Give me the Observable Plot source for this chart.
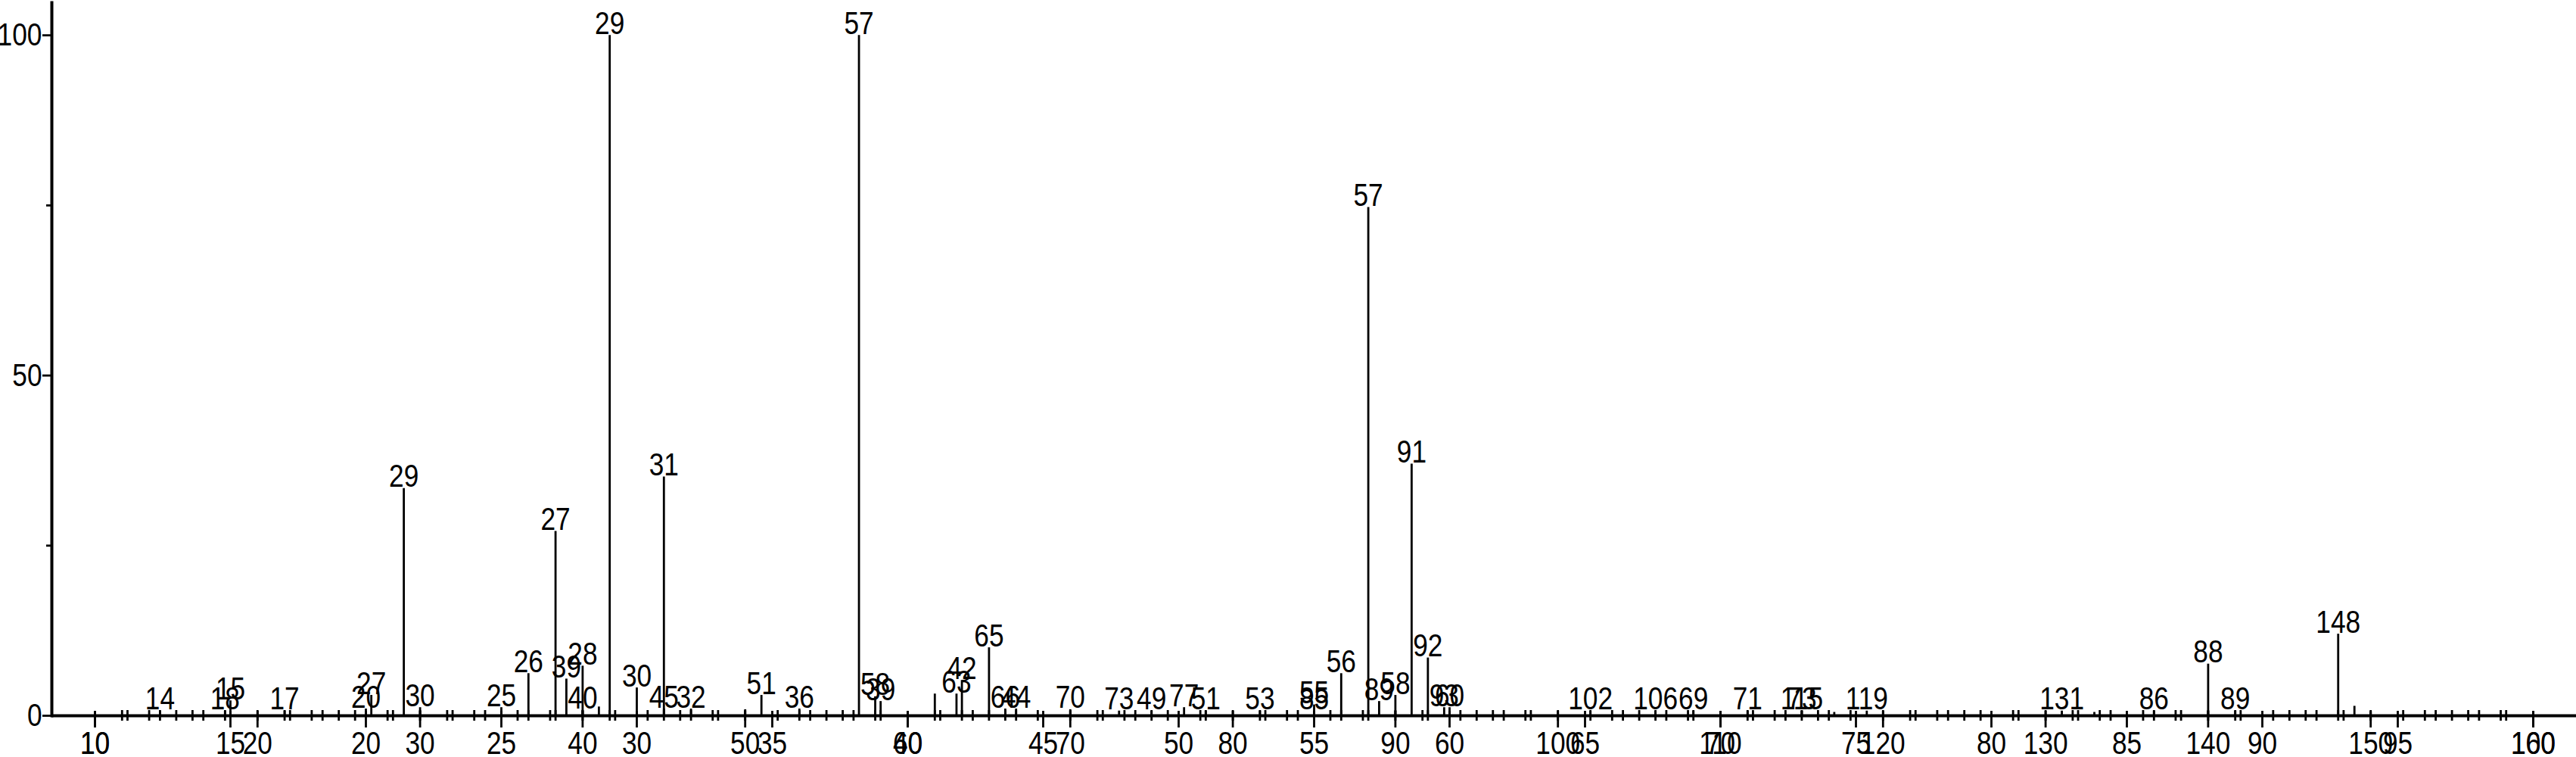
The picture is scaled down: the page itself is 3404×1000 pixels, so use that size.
<!DOCTYPE html>
<html><head><meta charset="utf-8">
<script src="https://cdn.jsdelivr.net/npm/d3@7"></script>
<script src="https://cdn.jsdelivr.net/npm/@observablehq/plot@0.6"></script>
<style>
html,body{margin:0;padding:0;background:#fff;}
#chart{position:relative;width:3404px;height:1000px;}
#chart svg{position:absolute;left:0;top:0;}
</style></head><body><div id="chart"></div>
<script>
// Spectrum A (read against the axis labelled every 5)
const specA_mz    = [15, 17, 20, 25, 26, 27, 28, 29, 30, 31, 32, 36, 39, 41, 42, 44, 49, 51, 53, 55, 56, 57, 58, 60, 69, 71, 73, 86, 88, 89];
const specA_int   = [2.2, 0.7, 1.0, 1.2, 6.2, 27.1, 7.3, 100, 4.1, 35.1, 1.0, 1.0, 2.1, 3.2, 5.2, 1.0, 0.7, 0.7, 0.7, 1.6, 6.2, 74.7, 3.0, 1.2, 0.7, 0.7, 0.7, 0.7, 7.6, 0.7];
const specA_label = ["15","17","20","25","26","27","28","29","30","31","32","36","39","","42","44","49","51","53","55","56","57","58","60","69","71","73","86","88","89"];

// Spectrum B (read against the axis labelled every 10)
const specB_mz    = [14, 18, 27, 29, 30, 39, 40, 41, 45, 50, 51, 57, 58, 63, 65, 66, 70, 73, 77, 85, 89, 91, 92, 93, 102, 106, 115, 117, 119, 131, 133, 148, 149, 150];
const specB_int   = [0.7, 0.7, 3.0, 33.4, 1.2, 5.4, 0.8, 1.3, 1.0, 0.9, 3.0, 100, 2.8, 3.2, 10.0, 1.0, 0.9, 0.7, 1.2, 0.7, 2.1, 37.0, 8.5, 1.2, 0.7, 0.7, 0.7, 0.5, 0.7, 0.7, 0.5, 12.0, 1.4, 0.5];
const specB_label = ["14","18","27","29","30","39","40","","45","","51","57","58","63","65","66","70","73","77","85","89","91","92","93","102","106","115","","119","131","","148","",""];

// Axis ticks
const axisA_major = [10,15,20,25,30,35,40,45,50,55,60,65,70,75,80,85,90,95,100];
const axisA_minor = d3.range(10, 101, 1).filter(v => v % 5 !== 0);
const axisB_major = [10,20,30,40,50,60,70,80,90,100,110,120,130,140,150,160];
const axisB_minor = d3.range(10, 161, 2).filter(v => v % 10 !== 0);
const axisA_domain = [8.408, 101.592];
const axisB_domain = [7.346, 162.654];
const yMajor = [0, 50, 100];
const yMinor = [25, 75];
const yDomain = [0, 104.8];

const W = 3404, H = 1000;
const FONT = '"Liberation Sans Narrow","Arial Narrow","Liberation Sans",Arial,sans-serif';
const FS = 42;

function layer(mz, inten, labels, domain, major, minor, withY) {
  const data = mz.map((m, i) => ({mz: m, v: inten[i], label: labels[i]}));
  const marks = [
    Plot.ruleX(data, {x: "mz", y1: 0, y2: "v", stroke: "#000", strokeWidth: 2.8}),
    Plot.text(data.filter(d => d.label), {x: "mz", y: "v", text: "label", lineAnchor: "bottom", dy: -2, fontSize: FS, fill: "#000"}),
    Plot.ruleX(minor, {x: d => d, y1: 0, y2: 0, insetTop: -7, insetBottom: -7, stroke: "#000", strokeWidth: 2.8}),
    Plot.ruleX(major, {x: d => d, y1: 0, y2: 0, insetTop: -6, insetBottom: -16, stroke: "#000", strokeWidth: 2.8}),
    Plot.axisX({ticks: major, tickSize: 0, tickPadding: 21, fontSize: FS, label: null, tickFormat: d => String(d)})
  ];
  if (withY) {
    marks.push(
      Plot.ruleY([0], {stroke: "#000", strokeWidth: 4}),
      Plot.frame({anchor: "left", stroke: "#000", strokeWidth: 4}),
      Plot.axisY({ticks: yMajor, tickSize: 12, tickPadding: 1, fontSize: FS, strokeWidth: 2.8, label: null, tickFormat: d => String(d)}),
      Plot.axisY({ticks: yMinor, tickSize: 7, strokeWidth: 2.8, label: null, tickFormat: () => ""})
    );
  }
  return Plot.plot({
    width: W, height: H,
    marginTop: 3, marginRight: 0, marginBottom: 55, marginLeft: 68,
    x: {domain, axis: null},
    y: {domain: yDomain, axis: null},
    style: {background: "transparent", fontFamily: FONT, color: "#000", overflow: "visible"},
    marks
  });
}

const el = document.getElementById("chart");
el.appendChild(layer(specB_mz, specB_int, specB_label, axisB_domain, axisB_major, axisB_minor, false));
el.appendChild(layer(specA_mz, specA_int, specA_label, axisA_domain, axisA_major, axisA_minor, true));

// condensed lettering, as in the reference
el.querySelectorAll("text").forEach(t => {
  const w = t.getComputedTextLength();
  if (w > 0) {
    t.setAttribute("textLength", (w * 0.84).toFixed(1));
    t.setAttribute("lengthAdjust", "spacingAndGlyphs");
  }
});
</script></body></html>
